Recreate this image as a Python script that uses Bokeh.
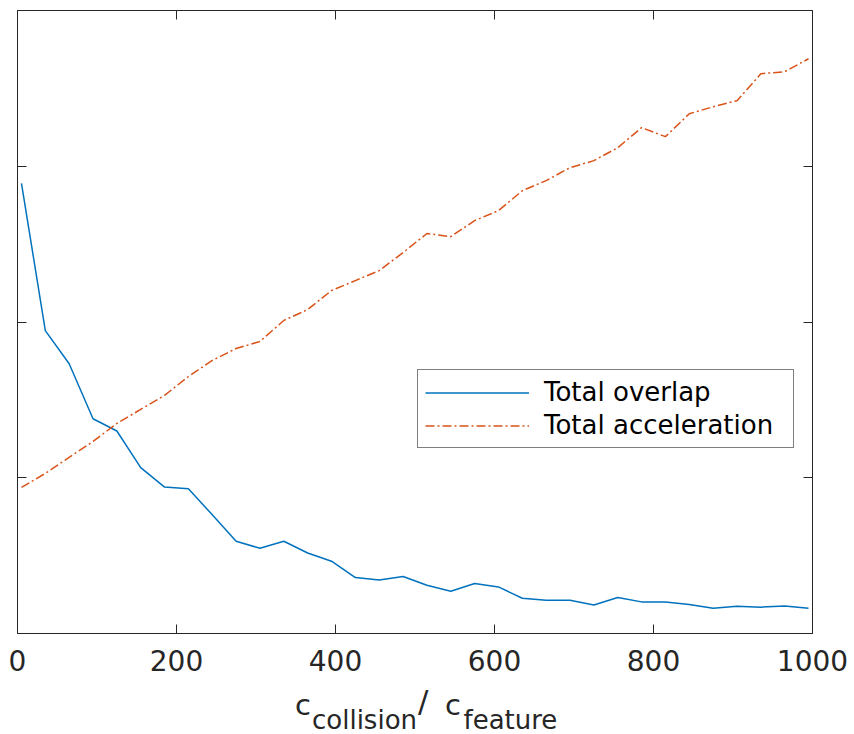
from bokeh.plotting import figure
from bokeh.models import Range1d, FixedTicker, LinearAxis, Legend, LegendItem, Div
from bokeh.layouts import column
from bokeh.embed import file_html
from bokeh.resources import INLINE

# ---- data ----
x_vals = [5, 35, 65, 95, 125, 155, 185, 215, 245, 275, 305, 335, 365, 395, 425, 455, 485,
          515, 545, 575, 605, 635, 665, 695, 725, 755, 785, 815, 845, 875, 905, 935, 965, 995]
overlap = [2.890, 1.945, 1.732, 1.379, 1.300, 1.065, 0.940, 0.930, 0.762, 0.592, 0.547, 0.592,
           0.517, 0.464, 0.359, 0.344, 0.366, 0.310, 0.271, 0.321, 0.299, 0.226, 0.214, 0.214,
           0.183, 0.231, 0.203, 0.203, 0.186, 0.162, 0.175, 0.169, 0.177, 0.162]
acceleration = [0.938, 1.028, 1.131, 1.233, 1.349, 1.439, 1.529, 1.650, 1.753, 1.830, 1.875, 2.010,
                2.080, 2.202, 2.266, 2.330, 2.446, 2.568, 2.548, 2.651, 2.715, 2.843, 2.908, 2.991,
                3.036, 3.119, 3.248, 3.190, 3.337, 3.382, 3.421, 3.594, 3.607, 3.690]
x_ticks = [0, 200, 400, 600, 800, 1000]
y_ticks = [0, 1, 2, 3, 4]
series_labels = ["Total overlap", "Total acceleration"]

AX = "#262626"
FONT = "DejaVu Sans"

p = figure(width=854, height=686, output_backend="svg", toolbar_location=None,
           x_range=Range1d(0, 1000), y_range=Range1d(0, 4),
           min_border_left=17, min_border_right=42, min_border_top=10, min_border_bottom=53)
p.outline_line_color = None
p.xgrid.visible = False
p.ygrid.visible = False
p.background_fill_color = "white"


def style(ax, ticks, labels):
    ax.ticker = FixedTicker(ticks=ticks)
    ax.major_tick_in = 9
    ax.major_tick_out = 0
    ax.minor_tick_line_color = None
    ax.axis_line_color = AX
    ax.axis_line_width = 1
    ax.major_tick_line_color = AX
    ax.major_tick_line_width = 1
    if labels:
        ax.major_label_text_font = FONT
        ax.major_label_text_font_size = "28px"
        ax.major_label_text_color = AX
        ax.major_label_standoff = 16
    else:
        ax.major_label_text_font_size = "1px"
        ax.major_label_text_color = None
        ax.major_label_standoff = 0


style(p.xaxis[0], x_ticks, True)
style(p.yaxis[0], y_ticks, False)
top = LinearAxis()
style(top, x_ticks, False)
right = LinearAxis()
style(right, y_ticks, False)
p.add_layout(top, "above")
p.add_layout(right, "right")

r1 = p.line(x_vals, overlap, line_color="#0072BD", line_width=1.5)
r2 = p.line(x_vals, acceleration, line_color="#D95319", line_width=1.5, line_dash="9 3 2 3")

legend = Legend(items=[LegendItem(label=series_labels[0], renderers=[r1]),
                       LegendItem(label=series_labels[1], renderers=[r2])],
                location=(400, 185), glyph_width=104, glyph_height=27, label_height=27,
                label_width=242, label_standoff=15, spacing=3, padding=7, margin=0,
                label_text_font=FONT, label_text_font_size="26px", label_text_color="black",
                border_line_color="black", border_line_width=1, background_fill_color="white",
                background_fill_alpha=1)
p.add_layout(legend)

# x-axis label with subscripts (HTML text below the plot)
def span(left, top, size, txt):
    return (f'<span style="position:absolute;left:{left}px;top:{top}px;font-family:\'{FONT}\';'
            f'font-size:{size}px;line-height:1;color:{AX};white-space:nowrap;">{txt}</span>')

label_html = ('<div style="position:relative;width:854px;height:48px;">'
              + span(295, 4.5, 29, "c")
              + span(312, 21, 26, "collision")
              + span(418, 0, 31, "/")
              + span(445, 4.5, 29, "c")
              + span(463.5, 21, 26, "feature")
              + '</div>')
div = Div(text=label_html, width=854, height=48, margin=0)

layout = column(p, div, spacing=0)
open("out.html", "w").write(file_html(layout, INLINE))
